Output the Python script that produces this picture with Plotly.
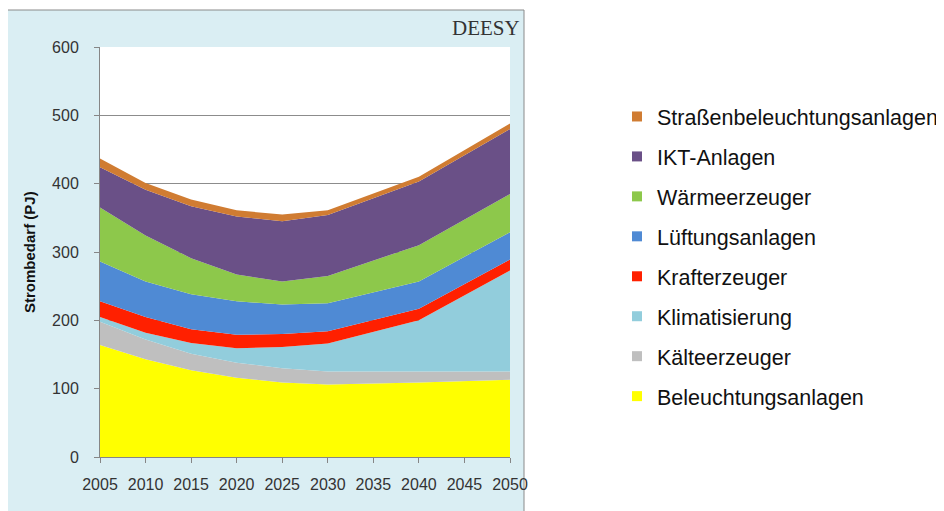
import plotly.graph_objects as go

# ---- data ----
years = [2005, 2010, 2015, 2020, 2025, 2030, 2040, 2050]
beleuchtung = [164, 143, 127, 116, 109, 106, 109, 113]
kaelte = [34, 29, 24, 22, 21, 19, 16, 12]
klima = [7, 10, 16, 21, 31, 41, 75, 148]
kraft = [23, 23, 20, 20, 19, 18, 17, 16]
lueftung = [58, 52, 51, 49, 43, 41, 40, 40]
waerme = [79, 67, 53, 39, 34, 40, 53, 56]
ikt = [59, 67, 76, 85, 88, 89, 93, 95]
strassen = [13, 10, 10, 9, 10, 7, 7, 8]

series_names = ["Beleuchtungsanlagen", "Kälteerzeuger", "Klimatisierung", "Krafterzeuger",
                "Lüftungsanlagen", "Wärmeerzeuger", "IKT-Anlagen", "Straßenbeleuchtungsanlagen"]
series_values = [beleuchtung, kaelte, klima, kraft, lueftung, waerme, ikt, strassen]
series_colors = ["#FFFF00", "#BFBFBF", "#92CDDC", "#FF2000",
                 "#4F8AD4", "#8DC84B", "#6A5087", "#D07C32"]

x_ticks = [2005, 2010, 2015, 2020, 2025, 2030, 2035, 2040, 2045, 2050]
y_ticks = [0, 100, 200, 300, 400, 500, 600]

FONT = "Liberation Sans, Arial, sans-serif"

fig = go.Figure()

# stacked areas
for name, vals, col in zip(series_names, series_values, series_colors):
    fig.add_trace(go.Scatter(
        x=years, y=vals, name=name, stackgroup="one", mode="lines",
        line=dict(width=0, color=col), fillcolor=col, showlegend=False,
        hoverinfo="x+y+name"))

# legend entries (square swatches), top to bottom
for name, col in reversed(list(zip(series_names, series_colors))):
    fig.add_trace(go.Scatter(
        x=[None], y=[None], name=name, mode="markers", legendgroup=name,
        marker=dict(symbol="square", size=10, color=col), showlegend=True))

# the page body has an 8px margin, so the figure starts at (8, 8) on screen
OFF = 8
W, H = 944 - OFF, 511 - OFF
L, R, T, B = 100 - OFF, 510 - OFF, 47 - OFF, 457 - OFF
pw, ph = R - L, B - T

def px(x):  # screen x -> paper x
    return (x - OFF - L) / pw

def py(y):  # screen y -> paper y
    return (B - (y - OFF)) / ph

fig.update_layout(
    width=W, height=H,
    margin=dict(l=L, r=W - R, t=T, b=H - B, autoexpand=False),
    paper_bgcolor="white", plot_bgcolor="white",
    font=dict(family=FONT, color="#333333"),
    showlegend=True,
    legend=dict(
        x=px(617), y=py(96), xanchor="left", yanchor="top",
        traceorder="grouped", tracegroupgap=9,
        font=dict(family=FONT, size=21.5, color="#111111"),
        bgcolor="rgba(0,0,0,0)", borderwidth=0),
    xaxis=dict(
        range=[2005, 2050], tickvals=x_ticks, ticktext=[str(v) for v in x_ticks],
        showgrid=False, zeroline=False,
        showline=True, linecolor="#868686", linewidth=1,
        ticks="outside", ticklen=5, tickcolor="#868686",
        tickfont=dict(family=FONT, size=16, color="#333333"),
        ticklabelstandoff=8),
    yaxis=dict(
        range=[0, 600], tickvals=y_ticks,
        showgrid=True, gridcolor="#8C8C8C", gridwidth=1, zeroline=False,
        showline=True, linecolor="#868686", linewidth=1,
        ticks="outside", ticklen=5, tickcolor="#868686",
        tickfont=dict(family=FONT, size=16, color="#333333"),
        ticklabelstandoff=12),
    shapes=[
        dict(type="rect", xref="paper", yref="paper",
             x0=px(7), x1=px(524), y0=py(530), y1=py(10),
             fillcolor="#DAEEF3", line=dict(color="#8A8A8A", width=1), layer="below"),
        dict(type="rect", xref="paper", yref="paper",
             x0=0, x1=1, y0=0, y1=1,
             fillcolor="white", line=dict(width=0), layer="below"),
    ],
    annotations=[
        dict(text="<b>Strombedarf (PJ)</b>", textangle=-90, xref="paper", yref="paper",
             x=px(29), y=0.5, xanchor="center", yanchor="middle", showarrow=False,
             font=dict(family=FONT, size=15, color="#111111")),
        dict(text="DEESY", xref="paper", yref="paper", x=px(522), y=py(28.5),
             xanchor="right", yanchor="middle", showarrow=False,
             font=dict(family="'Liberation Serif', 'Times New Roman', serif", size=21, color="#333333")),
    ],
)

fig.write_html("out.html")
